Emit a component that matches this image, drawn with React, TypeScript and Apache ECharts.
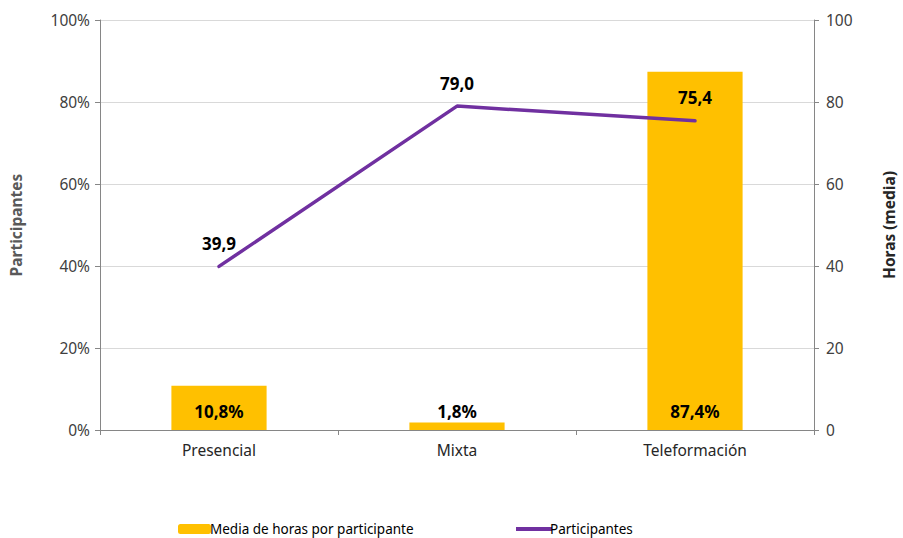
import React, { useEffect, useRef } from "react";
import * as echarts from "echarts";

const categories = ["Presencial", "Mixta", "Teleformación"];
const barName = "Media de horas por participante";
const lineName = "Participantes";
const barValues = [10.8, 1.8, 87.4];
const lineValues = [39.9, 79.0, 75.4];
const leftTicks = [0, 20, 40, 60, 80, 100];

const FONT = "'Noto Sans', 'Open Sans', sans-serif";
const comma = (v: number) => v.toFixed(1).replace(".", ",");

export default function App() {
  const ref = useRef<HTMLDivElement>(null);
  useEffect(() => {
    if (!ref.current) return;
    const chart = echarts.init(ref.current, undefined, { renderer: "svg" });
    chart.setOption({
      animation: false,
      textStyle: { fontFamily: FONT },
      grid: {
        left: 100,
        right: 89,
        top: 20,
        bottom: 108,
        containLabel: false,
        outerBoundsMode: "none",
      },
      legend: [
        {
          data: [barName],
          left: 173,
          top: 517,
          itemWidth: 33,
          itemHeight: 10,
          itemGap: 4,
          textStyle: { fontFamily: FONT, fontSize: 13.5, color: "#000", padding: [0, 0, 0, -6] },
        },
        {
          data: [{ name: lineName, icon: "rect", itemStyle: { color: "#7030A0" } }],
          left: 511,
          top: 517,
          itemWidth: 36,
          itemHeight: 4,
          textStyle: { fontFamily: FONT, fontSize: 13.5, color: "#000", padding: [0, 0, 0, -7] },
        },
      ],
      xAxis: {
        type: "category",
        data: categories,
        boundaryGap: true,
        axisLine: { lineStyle: { color: "#868686", width: 1 } },
        axisTick: { show: true, length: 5, lineStyle: { color: "#868686" }, alignWithLabel: false },
        axisLabel: { color: "#262626", fontSize: 15.5, margin: 12, fontFamily: FONT },
      },
      yAxis: [
        {
          type: "value",
          min: 0,
          max: 100,
          interval: 20,
          position: "left",
          name: "Participantes",
          nameLocation: "middle",
          nameRotate: 90,
          nameGap: 76,
          nameTextStyle: { color: "#595959", fontWeight: "bold", fontSize: 15.5, fontFamily: FONT },
          axisLine: { show: true, lineStyle: { color: "#868686" } },
          axisTick: { show: true, length: 5, lineStyle: { color: "#868686" } },
          axisLabel: {
            color: "#404040",
            fontSize: 15.5,
            margin: 10,
            fontFamily: FONT,
            formatter: (v: number) => (leftTicks.includes(v) ? `${v}%` : ""),
          },
          splitLine: { show: true, lineStyle: { color: "#D9D9D9", width: 1 } },
        },
        {
          type: "value",
          min: 0,
          max: 100,
          interval: 20,
          position: "right",
          name: "Horas (media)",
          nameLocation: "middle",
          nameRotate: 90,
          nameGap: 67,
          nameTextStyle: { color: "#262626", fontWeight: "bold", fontSize: 15.5, fontFamily: FONT },
          axisLine: { show: true, lineStyle: { color: "#868686" } },
          axisTick: { show: true, length: 5, lineStyle: { color: "#868686" } },
          axisLabel: { color: "#404040", fontSize: 15.5, margin: 12, fontFamily: FONT },
          splitLine: { show: false },
        },
      ],
      series: [
        {
          name: barName,
          type: "bar",
          yAxisIndex: 0,
          data: barValues,
          barWidth: "40%",
          itemStyle: { color: "#FFC000" },
          label: {
            show: true,
            position: "insideBottom",
            distance: 10,
            color: "#000",
            fontWeight: "bold",
            fontSize: 17,
            fontFamily: FONT,
            formatter: (p: any) => `${comma(p.value)}%`,
          },
        },
        {
          name: lineName,
          type: "line",
          yAxisIndex: 1,
          data: lineValues,
          symbol: "circle",
          symbolSize: 1,
          showSymbol: true,
          lineStyle: { color: "#7030A0", width: 3.5, cap: "round" },
          itemStyle: { color: "#7030A0" },
          label: {
            show: true,
            position: "top",
            distance: 14,
            color: "#000",
            fontWeight: "bold",
            fontSize: 17,
            fontFamily: FONT,
            formatter: (p: any) => comma(p.value),
          },
        },
      ],
    });
    return () => chart.dispose();
  }, []);
  return <div ref={ref} style={{ width: 903, height: 538, position: "absolute", left: 0, top: 0 }} />;
}
